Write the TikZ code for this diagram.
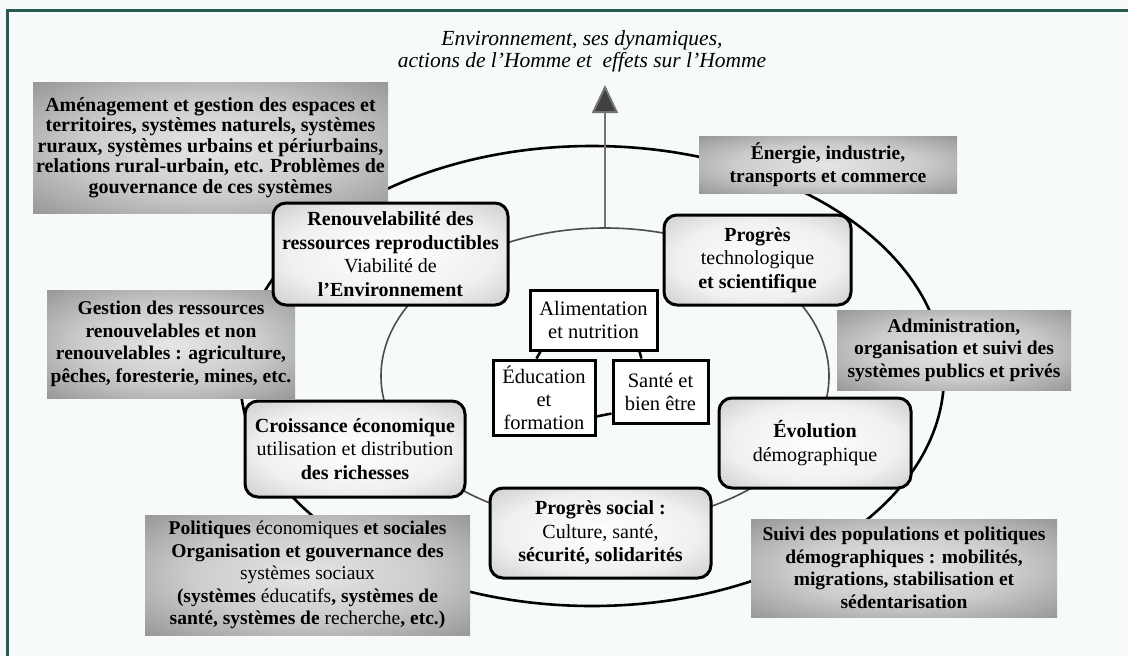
\documentclass[tikz,border=0pt]{standalone}
\usepackage{fontspec}
\setmainfont{Liberation Serif}
\usetikzlibrary{arrows.meta,shapes.geometric}
\definecolor{framec}{RGB}{40,90,80}
\definecolor{bgc}{RGB}{247,250,250}
\pgfdeclareradialshading{grayboxshade}{\pgfpoint{0bp}{0bp}}{color(0bp)=(black!10); color(18bp)=(black!20); color(35bp)=(black!40); color(50bp)=(black!58); color(72bp)=(black!66)}
\pgfdeclareradialshading{roundshade}{\pgfpoint{0bp}{0bp}}{color(0bp)=(white); color(22bp)=(black!6); color(38bp)=(black!22); color(50bp)=(black!45); color(72bp)=(black!55)}
\newcommand{\gbf}{\fontsize{19.5}{22.5}\selectfont}
\newcommand{\rbf}{\fontsize{20}{23.5}\selectfont}
\newcommand{\pbf}{\fontsize{20.5}{23}\selectfont}
\tikzset{
  graybox/.style={shade, shading=grayboxshade, align=center, inner sep=0pt, font=\gbf\bfseries},
  roundbox/.style={draw=black, line width=3pt, rounded corners=13pt, shade, shading=roundshade, align=center, inner sep=0pt, font=\rbf},
  plainbox/.style={draw=black, line width=3pt, fill=white, align=center, inner sep=0pt, font=\pbf},
  link/.style={draw=black, line width=2.5pt}
}
\begin{document}
\begin{tikzpicture}[x=1pt,y=-1pt]
\useasboundingbox (0,0) rectangle (1128,656);
\fill[bgc] (0,0) rectangle (1128,656);
\draw[framec, line width=3pt] (7,700) -- (7,10) -- (1200,10);

% title
\node[align=center, font=\fontsize{21.5}{22}\selectfont\itshape] (title) at (582,51)
  {Environnement, ses dynamiques,\\ actions de l'Homme et \ effets sur l'Homme};

% ellipses
\node[ellipse, draw=black, line width=2.6pt, minimum width=704pt, minimum height=460pt, inner sep=0pt] (outer) at (592,376) {};
\node[ellipse, draw=black!70, line width=1.6pt, minimum width=448pt, minimum height=296pt, inner sep=0pt] (inner) at (605,376) {};
\coordinate (tip) at (605,85);
\draw[black!55, line width=2pt, -{Triangle[width=26pt,length=28pt,fill=black!75]}] (inner.north) -- (tip);

% gray boxes
\node[graybox, minimum width=355pt, minimum height=131pt, font=\fontsize{20}{20.5}\selectfont\bfseries] (amen) at (210.5,147.5)
  {Aménagement et gestion des espaces et\\ territoires, systèmes naturels, systèmes\\ ruraux, systèmes urbains et périurbains,\\ relations rural-urbain, etc. Problèmes de\\ gouvernance de ces systèmes};
\node[graybox, minimum width=258pt, minimum height=57pt] (energie) at (828,164.5)
  {Énergie, industrie,\\ transports et commerce};
\node[graybox, minimum width=248pt, minimum height=108pt] (gestion) at (171,344)
  {Gestion des ressources\\ renouvelables et non\\ renouvelables : agriculture,\\ pêches, foresterie, mines, etc.};
\node[graybox, minimum width=234pt, minimum height=80pt] (admin) at (954,350)
  {Administration,\\ organisation et suivi des\\ systèmes publics et privés};
\node[graybox, minimum width=325pt, minimum height=120pt] (polit) at (307.5,575)
  {Politiques {\mdseries économiques} et sociales\\ Organisation et gouvernance des\\ {\mdseries systèmes sociaux}\\ (systèmes {\mdseries éducatifs}, systèmes de\\ santé, systèmes de {\mdseries recherche}, etc.)};
\node[graybox, minimum width=306pt, minimum height=98pt] (suivi) at (904,568)
  {Suivi des populations et politiques\\ démographiques : mobilités,\\ migrations, stabilisation et\\ sédentarisation};

% rounded boxes
\node[roundbox, minimum width=235pt, minimum height=102pt] (renouv) at (390.5,254)
  {\textbf{Renouvelabilité des}\\ \textbf{ressources reproductibles}\\ Viabilité de\\ \textbf{l'Environnement}};
\node[roundbox, minimum width=187pt, minimum height=90pt] (progtech) at (757.5,260)
  {\textbf{Progrès}\\ technologique\\ \textbf{et scientifique}};
\node[roundbox, minimum width=220pt, minimum height=96pt] (croiss) at (355,449)
  {\textbf{Croissance économique}\\ utilisation et distribution\\ \textbf{des richesses}};
\node[roundbox, minimum width=192pt, minimum height=90pt] (evol) at (815,443)
  {\textbf{Évolution}\\ démographique};
\node[roundbox, minimum width=221pt, minimum height=90pt] (progsoc) at (600.5,533)
  {\textbf{Progrès social :}\\ Culture, santé,\\ \textbf{sécurité, solidarités}};

% plain boxes
\node[plainbox, minimum width=127pt, minimum height=60pt] (alim) at (593.5,320)
  {Alimentation\\ et nutrition};
\node[plainbox, minimum width=102pt, minimum height=75pt] (educ) at (544,397.5)
  {Éducation\\ et\\ formation};
\node[plainbox, minimum width=95pt, minimum height=63pt] (sante) at (660.5,391.5)
  {Santé et\\ bien être};

\draw[link] ([xshift=12pt]alim.south west) -- ([xshift=45pt]educ.north west);
\draw[link] ([xshift=-19pt]alim.south east) -- ([xshift=30pt]sante.north west);
\draw[link] ([yshift=20pt]educ.south east) -- ([yshift=11pt]sante.south west);
\end{tikzpicture}
\end{document}
